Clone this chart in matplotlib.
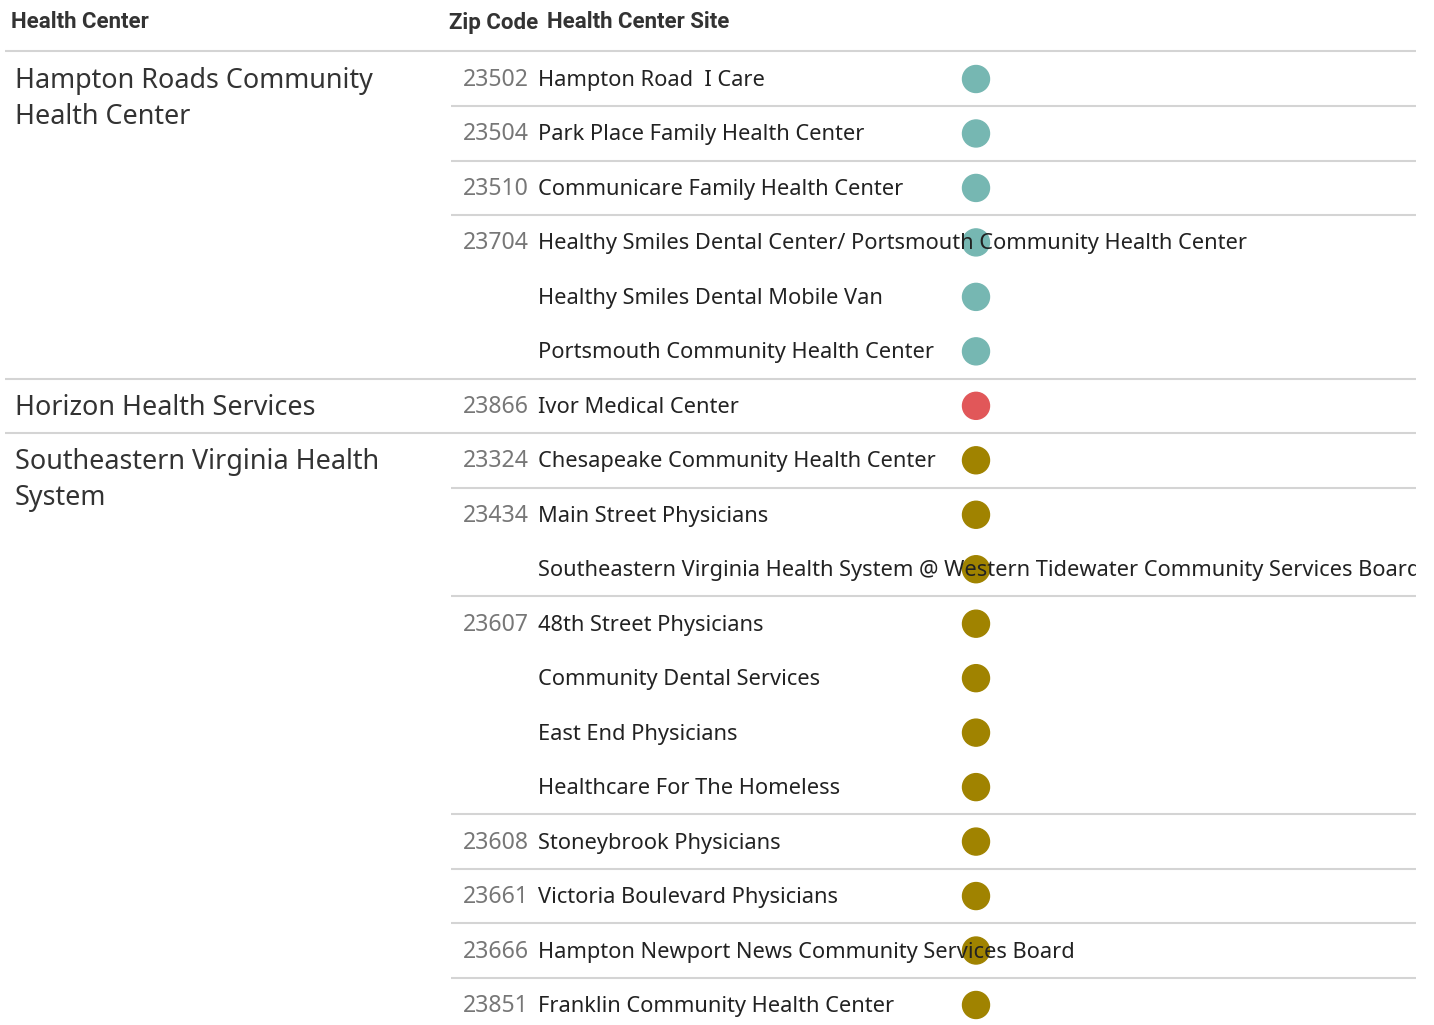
import matplotlib

matplotlib.use("Agg")
import matplotlib.pyplot as plt  # noqa: E402
from matplotlib.patches import Ellipse  # noqa: E402

plt.rcParams["font.family"] = ["Noto Sans", "DejaVu Sans"]

# table data
CENTERS = [
    "Hampton Roads Community\nHealth Center",
    "Horizon Health Services",
    "Southeastern Virginia Health\nSystem",
]
CENTER_COLORS = ["#76b7b2", "#e15759", "#a08300"]

SITE_CENTER = [0, 0, 0, 0, 0, 0, 1, 2, 2, 2, 2, 2, 2, 2, 2, 2, 2, 2]
SITE_ZIP = [
    "23502", "23504", "23510", "23704", "23704", "23704",
    "23866",
    "23324", "23434", "23434", "23607", "23607", "23607", "23607",
    "23608", "23661", "23666", "23851",
]
SITE_NAME = [
    "Hampton Road  I Care",
    "Park Place Family Health Center",
    "Communicare Family Health Center",
    "Healthy Smiles Dental Center/ Portsmouth Community Health Center",
    "Healthy Smiles Dental Mobile Van",
    "Portsmouth Community Health Center",
    "Ivor Medical Center",
    "Chesapeake Community Health Center",
    "Main Street Physicians",
    "Southeastern Virginia Health System @ Western Tidewater Community Services Board",
    "48th Street Physicians",
    "Community Dental Services",
    "East End Physicians",
    "Healthcare For The Homeless",
    "Stoneybrook Physicians",
    "Victoria Boulevard Physicians",
    "Hampton Newport News Community Services Board",
    "Franklin Community Health Center",
]

W, H = 1434, 1025
RIGHT = 1416
ROW0, ROW_H = 79, 54.47
LINE_C = "#d4d4d4"

fig = plt.figure(figsize=(W / 100, H / 100), dpi=100)
ax = fig.add_axes([0, 0, RIGHT / W, 1])
ax.set_xlim(0, RIGHT)
ax.set_ylim(H, 0)
ax.axis("off")

# header
hdr = dict(fontsize=16, fontweight="bold", color="#333333", va="baseline",
           family="Roboto")
ax.text(11, 28.5, "Health Center", **hdr)
ax.text(449, 28.5, "Zip Code", **hdr)
ax.text(547, 28.5, "Health Center Site", **hdr)
ax.plot([5, RIGHT], [51, 51], color=LINE_C, lw=1.5, solid_capstyle="butt")

n = len(SITE_NAME)
for i in range(n):
    y = ROW0 + i * ROW_H
    c = SITE_CENTER[i]
    first_of_center = i == 0 or SITE_CENTER[i - 1] != c
    first_of_zip = first_of_center or SITE_ZIP[i - 1] != SITE_ZIP[i]
    if first_of_center:
        for j, line in enumerate(CENTERS[c].split("\n")):
            ax.text(15, y + 9 + j * 36, line, fontsize=19.4, color="#333333",
                    va="baseline")
        if i > 0:
            ax.plot([5, RIGHT], [y - ROW_H / 2] * 2, color=LINE_C, lw=1.5,
                    solid_capstyle="butt")
    elif first_of_zip:
        ax.plot([451, RIGHT], [y - ROW_H / 2] * 2, color=LINE_C, lw=1.5,
                solid_capstyle="butt")
    if first_of_zip:
        ax.text(529, y + 7, SITE_ZIP[i], fontsize=16.6, color="#777777",
                fontweight="light", ha="right", va="baseline")
    ax.add_patch(Ellipse((976, y), 27, 27, color=CENTER_COLORS[c], zorder=2))
    ax.text(538, y + 7, SITE_NAME[i], fontsize=15.7, color="#222222",
            va="baseline", clip_on=True, zorder=3)

fig.savefig("out.png", dpi=100, facecolor="white")
